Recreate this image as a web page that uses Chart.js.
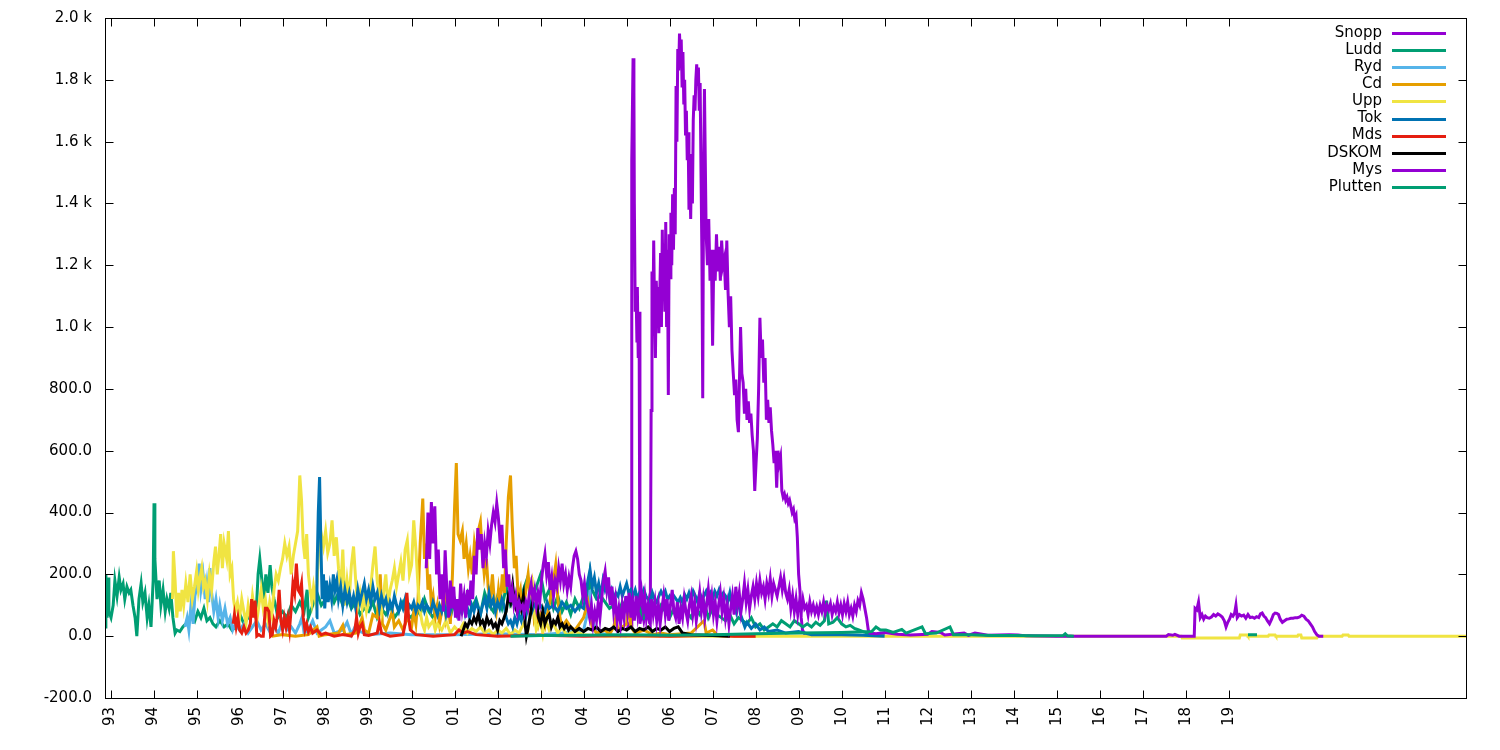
<!DOCTYPE html>
<html><head><meta charset="utf-8">
<script src="https://cdn.jsdelivr.net/npm/chart.js@4.4.1/dist/chart.umd.min.js"></script>
<style>html,body{margin:0;padding:0;background:#fff;}#wrap{width:1500px;height:750px;}</style>
</head><body><div id="wrap"><canvas id="c" width="1500" height="750"></canvas></div>
<script>
const seriesNames = ['Snopp','Ludd','Ryd','Cd','Upp','Tok','Mds','DSKOM','Mys','Plutten'];
const seriesColors = ['#9400d3','#009e73','#56b4e9','#e69f00','#f0e442','#0072b2','#e51e10','#000000','#9400d3','#009e73'];
const yearTicks = [1993,1994,1995,1996,1997,1998,1999,2000,2001,2002,2003,2004,2005,2006,2007,2008,2009,2010,2011,2012,2013,2014,2015,2016,2017,2018,2019];

const snopp = [[2005.0,20],[2005.06,40],[2005.11,30],[2005.12,1540],[2005.15,1870],[2005.17,1760],[2005.18,1400],[2005.2,1050],[2005.22,1120],[2005.24,950],[2005.25,1130],[2005.27,900],[2005.29,1050],[2005.31,40],[2005.36,80],[2005.4,50],[2005.45,90],[2005.5,60],[2005.55,40],
[2005.57,730],[2005.59,1180],[2005.61,1000],[2005.63,1280],[2005.65,1050],[2005.67,900],[2005.69,1150],[2005.71,1050],[2005.73,1130],[2005.75,980],[2005.77,1100],[2005.79,1240],[2005.81,1000],[2005.83,1315],[2005.85,1100],[2005.87,1200],[2005.89,1050],[2005.91,1340],[2005.93,1000],[2005.95,1250],[2005.97,780],[2005.99,1300],
[2006.01,1160],[2006.03,1370],[2006.05,1200],[2006.07,1430],[2006.09,1250],[2006.11,1450],[2006.13,1300],[2006.15,1780],[2006.17,1600],[2006.19,1900],[2006.21,1830],[2006.23,1950],[2006.25,1880],[2006.27,1930],[2006.29,1780],[2006.31,1890],[2006.33,1720],[2006.35,1800],[2006.37,1620],[2006.39,1700],[2006.41,1540],[2006.43,1630],[2006.45,1380],[2006.47,1480],[2006.49,1350],[2006.51,1560],[2006.53,1400],[2006.55,1670],[2006.57,1750],[2006.59,1700],[2006.61,1800],[2006.63,1850],[2006.65,1780],[2006.67,1840],[2006.69,1700],[2006.71,1790],[2006.73,1500],[2006.75,1250],[2006.77,770],[2006.79,1480],[2006.81,1770],
[2006.85,1300],[2006.88,1200],[2006.91,1350],[2006.94,1150],[2006.97,1250],[2007.0,940],[2007.03,1250],[2007.06,1150],[2007.09,1300],[2007.12,1180],[2007.15,1260],[2007.18,1150],[2007.21,1280],[2007.24,1200],[2007.27,1220],[2007.3,1120],[2007.33,1280],[2007.36,1110],[2007.39,1000],[2007.42,1100],[2007.45,925],[2007.48,850],[2007.51,780],[2007.54,830],[2007.57,700],[2007.6,660],[2007.62,800],[2007.65,1000],[2007.68,850],[2007.71,820],[2007.74,720],[2007.77,800],[2007.8,700],[2007.83,760],[2007.86,690],[2007.89,720],[2007.92,650],[2007.95,600],[2007.98,470],
[2008.01,560],[2008.04,640],[2008.07,800],[2008.1,1030],[2008.13,900],[2008.16,960],[2008.19,820],[2008.22,900],[2008.25,700],[2008.28,765],[2008.31,690],[2008.34,740],[2008.37,665],[2008.4,620],[2008.43,560],[2008.46,600],[2008.49,480],[2008.52,600],[2008.55,560],[2008.58,580],[2008.61,470],[2008.64,450],[2008.67,460],[2008.7,440],[2008.73,450],[2008.76,430],[2008.79,440],[2008.82,420],[2008.85,400],[2008.88,410],[2008.91,380],[2008.94,390],[2008.97,320],[2009.0,200],[2009.03,150],[2009.06,60],[2009.09,20],[2009.15,5]];

const ludd = [[1992.87,30],[1992.89,200],[1992.92,60],[1992.94,190],[1992.96,80],[1993.01,60],[1993.06,100],[1993.10,180],[1993.15,130],[1993.20,190],[1993.24,150],[1993.29,170],[1993.33,120],[1993.38,160],[1993.43,140],[1993.47,150],[1993.52,100],[1993.57,60],[1993.61,0],[1993.66,120],[1993.71,170],[1993.75,110],[1993.80,140],[1993.85,60],[1993.89,100],[1993.94,30],[1993.99,180],[1994.01,430],[1994.03,250],[1994.08,120],[1994.13,180],[1994.17,100],[1994.22,150],[1994.27,80],[1994.31,120],[1994.36,90],[1994.40,140],[1994.45,60],[1994.50,10],[1994.54,20],[1994.61,15],[1994.68,30],[1994.75,40],[1994.82,50],[1994.89,70],[1994.96,50],[1995.03,80],[1995.10,60],[1995.17,90],[1995.24,50],[1995.31,60],[1995.38,40],[1995.45,30],[1995.54,50],[1995.64,30],[1995.73,40],[1995.82,20],[1995.92,30],[1996.01,70],[1996.10,40],[1996.20,60],[1996.29,100],[1996.38,60],[1996.43,200],[1996.47,250],[1996.52,180],[1996.57,120],[1996.61,200],[1996.66,140],[1996.71,230],[1996.75,160],[1996.80,120],[1996.85,90],[1996.89,60],
[1997.0,80],[1997.1,60],[1997.2,100],[1997.3,80],[1997.4,110],[1997.5,80],[1997.57,150],[1997.6,60],[1997.7,100],[1997.8,140],[1997.9,100],[1998.0,120],[1998.1,160],[1998.2,110],[1998.3,140],[1998.4,100],[1998.5,130],[1998.6,90],[1998.7,110],[1998.8,70],[1998.9,90],[1999.0,80],[1999.1,110],[1999.2,60],[1999.3,90],[1999.4,70],[1999.5,100],[1999.6,60],[1999.7,80],[1999.8,110],[1999.9,70],[2000.0,60],[2000.1,90],[2000.2,70],[2000.3,120],[2000.4,80],[2000.5,60],[2000.6,100],[2000.7,80],[2000.8,110],[2000.9,60],[2001.0,120],[2001.1,80],[2001.2,100],[2001.3,140],[2001.4,90],[2001.5,120],[2001.6,70],[2001.7,140],[2001.8,100],[2001.9,80],[2002.0,130],[2002.1,90],[2002.2,160],[2002.3,100],[2002.4,120],[2002.5,80],[2002.6,150],[2002.7,190],[2002.8,120],[2002.9,160],[2003.0,200],[2003.1,120],[2003.2,150],[2003.3,90],[2003.4,130],[2003.5,80],[2003.6,110],[2003.7,70],[2003.8,120],[2003.9,90],[2004.0,130],[2004.1,110],[2004.15,200],[2004.2,150],[2004.3,120],[2004.4,130],[2004.5,110],[2004.6,90],[2004.7,100],[2004.8,70],[2004.9,110],[2005.0,80],[2005.1,100],[2005.2,70],[2005.3,90],[2005.4,60],[2005.5,80],[2005.6,110],[2005.7,70],[2005.8,100],[2005.9,80],[2006.0,60],[2006.1,90],[2006.2,70],[2006.3,100],[2006.4,80],[2006.5,60],[2006.6,90],[2006.7,70],[2006.8,110],[2006.9,60],[2007.0,90],[2007.1,70],[2007.2,60],[2007.3,50],[2007.4,70],[2007.5,40],[2007.6,60],[2007.7,50],[2007.8,40],[2007.9,60],[2008.0,30],[2008.1,40],[2008.2,20],[2008.3,30],[2008.4,40],[2008.5,30],[2008.6,50],[2008.7,40],[2008.8,30],[2008.9,50],[2009.0,40],[2009.1,30],[2009.2,40],[2009.3,30],[2009.4,45],[2009.5,35],[2009.6,50],[2009.65,115],[2009.7,40],[2009.8,45],[2009.9,60],[2010.0,40],[2010.1,30],[2010.2,35],[2010.3,25],[2010.4,20],[2010.5,15],[2010.6,10],[2010.8,5],[2011.0,8]];

const ryd = [[1994.73,30],[1994.78,60],[1994.82,20],[1994.87,100],[1994.92,40],[1994.96,130],[1995.01,160],[1995.06,235],[1995.10,150],[1995.15,200],[1995.2,120],[1995.24,170],[1995.28,110],[1995.31,220],[1995.35,140],[1995.4,80],[1995.45,120],[1995.5,60],[1995.54,100],[1995.6,50],[1995.66,90],[1995.72,40],[1995.78,60],[1995.84,20],[1995.9,40],[1996.0,20],[1996.1,40],[1996.2,10],[1996.3,30],[1996.4,50],[1996.5,20],[1996.6,40],[1996.7,15],[1996.8,30],[1996.9,10],[1997.0,50],[1997.1,20],[1997.2,30],[1997.3,10],[1997.4,40],[1997.45,60],[1997.5,10],[1997.6,20],[1997.7,50],[1997.8,10],[1998.0,30],[1998.1,50],[1998.2,10],[1998.4,20],[1998.5,45],[1998.6,5],[1998.7,35],[1998.8,15],[1999.0,5],[1999.5,10],[2000.0,5],[2001.0,5],[2002.0,8],[2003.0,5],[2003.5,10],[2004.0,20],[2004.1,80],[2004.15,150],[2004.2,60],[2004.3,10],[2004.6,5],[2005.0,0]];

const cd = [[1996.75,0],[1997.0,5],[1997.3,0],[1997.6,5],[1997.8,30],[1997.85,0],[1998.0,5],[1998.3,10],[1998.4,35],[1998.45,5],[1998.7,10],[1998.8,40],[1998.85,60],[1998.9,20],[1999.0,10],[1999.1,70],[1999.2,60],[1999.27,200],[1999.32,40],[1999.4,20],[1999.5,60],[1999.55,80],[1999.6,30],[1999.7,50],[1999.8,20],[1999.9,60],[2000.0,30],[2000.05,80],[2000.1,40],[2000.15,120],[2000.2,300],[2000.26,445],[2000.3,250],[2000.34,300],[2000.38,150],[2000.42,200],[2000.46,100],[2000.5,130],[2000.55,60],[2000.6,100],[2000.65,40],[2000.7,80],[2000.75,150],[2000.8,60],[2000.85,100],[2000.9,40],[2000.95,200],[2001.0,420],[2001.04,560],[2001.08,330],[2001.13,310],[2001.18,340],[2001.22,250],[2001.27,300],[2001.32,220],[2001.36,260],[2001.41,200],[2001.46,300],[2001.5,260],[2001.55,340],[2001.6,370],[2001.64,280],[2001.69,200],[2001.74,250],[2001.78,160],[2001.83,120],[2001.88,200],[2001.92,120],[2001.97,80],[2002.02,150],[2002.06,100],[2002.11,200],[2002.16,140],[2002.2,300],[2002.25,450],[2002.3,520],[2002.34,360],[2002.39,220],[2002.43,260],[2002.48,120],[2002.53,150],[2002.57,80],[2002.62,110],[2002.66,150],[2002.71,200],[2002.76,120],[2002.8,160],[2002.85,60],[2002.9,90],[2002.95,40],[2003.0,70],[2003.1,30],[2003.2,100],[2003.3,180],[2003.35,230],[2003.4,120],[2003.45,60],[2003.5,30],[2003.6,50],[2003.7,30],[2003.8,20],[2003.9,40],[2004.0,60],[2004.1,110],[2004.15,60],[2004.2,30],[2004.3,10],[2004.5,20],[2004.6,5],[2004.7,30],[2004.75,60],[2004.8,20],[2005.0,40],[2005.05,110],[2005.1,30],[2005.2,10],[2005.4,20],[2005.6,5],[2005.8,10],[2006.0,5],[2006.5,10],[2006.8,50],[2006.85,10],[2007.0,20],[2007.1,5],[2007.5,0],[2008.0,0]];

const upp = [[1994.44,120],[1994.46,275],[1994.5,180],[1994.54,60],[1994.58,140],[1994.62,80],[1994.66,150],[1994.7,100],[1994.75,170],[1994.8,110],[1994.85,200],[1994.9,120],[1994.95,160],[1995.0,210],[1995.04,150],[1995.08,190],[1995.12,220],[1995.16,160],[1995.2,180],[1995.25,120],[1995.3,200],[1995.35,150],[1995.4,240],[1995.44,290],[1995.48,200],[1995.52,260],[1995.56,330],[1995.6,220],[1995.64,300],[1995.7,250],[1995.74,340],[1995.78,200],[1995.82,220],[1995.86,120],[1995.9,80],[1995.95,110],[1996.0,60],[1996.05,120],[1996.1,80],[1996.15,40],[1996.2,100],[1996.25,60],[1996.3,130],[1996.35,80],[1996.4,50],[1996.45,100],[1996.5,150],[1996.55,90],[1996.6,120],[1996.65,60],[1996.7,110],[1996.75,70],[1996.8,150],[1996.85,200],[1996.9,180],[1996.95,220],[1997.0,250],[1997.05,300],[1997.1,260],[1997.15,290],[1997.2,200],[1997.25,260],[1997.3,300],[1997.35,340],[1997.4,520],[1997.44,440],[1997.48,300],[1997.52,250],[1997.56,330],[1997.6,200],[1997.64,150],[1997.68,110],[1997.72,160],[1997.76,120],[1997.8,170],[1997.85,300],[1997.9,330],[1997.95,290],[1998.0,340],[1998.05,270],[1998.1,300],[1998.15,375],[1998.2,260],[1998.25,320],[1998.3,220],[1998.35,150],[1998.4,280],[1998.45,100],[1998.5,180],[1998.55,120],[1998.6,230],[1998.65,290],[1998.7,180],[1998.75,100],[1998.8,140],[1998.85,90],[1998.9,130],[1998.95,80],[1999.0,110],[1999.05,160],[1999.1,230],[1999.15,290],[1999.2,180],[1999.25,120],[1999.3,80],[1999.35,140],[1999.4,200],[1999.45,100],[1999.5,150],[1999.55,180],[1999.6,220],[1999.65,160],[1999.7,200],[1999.75,240],[1999.8,180],[1999.85,280],[1999.9,310],[1999.95,200],[2000.0,230],[2000.05,375],[2000.1,280],[2000.15,160],[2000.2,80],[2000.25,40],[2000.3,20],[2000.35,60],[2000.4,30],[2000.5,50],[2000.55,20],[2000.6,40],[2000.7,20],[2000.8,50],[2000.9,10],[2001.0,30],[2001.1,15],[2001.2,40],[2001.3,10],[2001.4,25],[2001.5,15],[2001.6,30],[2001.7,10],[2001.8,20],[2001.9,5],[2002.0,20],[2002.1,10],[2002.2,25],[2002.3,5],[2002.4,20],[2002.5,10],[2002.6,40],[2002.7,15],[2002.75,60],[2002.8,190],[2002.85,80],[2002.9,20],[2003.0,50],[2003.05,10],[2003.1,60],[2003.2,20],[2003.3,40],[2003.4,10],[2003.5,30],[2003.6,5],[2003.8,15],[2004.0,5],[2004.5,0],[2017.9,0],[2017.92,-6],[2019.25,-6],[2019.27,4],[2019.43,4],[2019.45,0],[2019.92,0],[2019.94,4],[2020.08,4],[2020.1,0],[2020.6,0],[2020.62,4],[2020.68,4],[2020.7,-6],[2021.05,-6],[2021.07,0],[2021.64,0],[2021.66,4],[2021.78,4],[2021.8,0],[2024.52,0]];

const tok = [[1997.78,60],[1997.8,200],[1997.83,400],[1997.86,515],[1997.89,300],[1997.92,120],[1997.95,200],[1997.98,90],[1998.02,180],[1998.06,110],[1998.1,160],[1998.14,120],[1998.18,200],[1998.22,150],[1998.26,180],[1998.3,120],[1998.35,160],[1998.4,100],[1998.45,150],[1998.5,110],[1998.55,140],[1998.6,100],[1998.65,130],[1998.7,90],[1998.75,150],[1998.8,110],[1998.85,140],[1998.9,170],[1998.95,120],[1999.0,150],[1999.05,110],[1999.1,160],[1999.15,120],[1999.2,140],[1999.25,90],[1999.3,130],[1999.35,100],[1999.4,120],[1999.45,80],[1999.5,110],[1999.55,90],[1999.6,130],[1999.65,100],[1999.7,80],[1999.75,110],[1999.8,90],[1999.85,120],[1999.9,80],[1999.95,100],[2000.0,90],[2000.05,110],[2000.1,80],[2000.15,100],[2000.2,90],[2000.25,110],[2000.3,80],[2000.35,100],[2000.4,90],[2000.45,80],[2000.5,110],[2000.55,90],[2000.6,70],[2000.65,100],[2000.7,80],[2000.75,110],[2000.8,70],[2000.85,100],[2000.9,80],[2000.95,110],[2001.0,90],[2001.05,70],[2001.1,100],[2001.15,80],[2001.2,110],[2001.25,70],[2001.3,90],[2001.35,60],[2001.4,100],[2001.45,80],[2001.5,110],[2001.55,90],[2001.6,70],[2001.65,100],[2001.7,120],[2001.75,90],[2001.8,140],[2001.85,100],[2001.9,120],[2001.95,80],[2002.0,110],[2002.05,90],[2002.1,120],[2002.15,100],[2002.2,60],[2002.25,40],[2002.3,50],[2002.35,30],[2002.4,60],[2002.45,40],[2002.5,70],[2002.55,50],[2002.6,80],[2002.65,60],[2002.7,90],[2002.75,110],[2002.8,80],[2002.85,100],[2002.9,110],[2002.95,90],[2003.0,100],[2003.1,80],[2003.15,110],[2003.2,90],[2003.3,100],[2003.4,80],[2003.5,110],[2003.6,90],[2003.7,100],[2003.8,80],[2003.9,100],[2004.0,90],[2004.05,130],[2004.1,180],[2004.15,215],[2004.2,160],[2004.25,190],[2004.3,140],[2004.35,170],[2004.4,130],[2004.45,180],[2004.5,150],[2004.55,170],[2004.6,130],[2004.65,150],[2004.7,120],[2004.75,140],[2004.8,130],[2004.85,160],[2004.9,130],[2004.95,150],[2005.0,170],[2005.05,140],[2005.1,150],[2005.15,130],[2005.2,150],[2005.25,120],[2005.3,140],[2005.35,130],[2005.4,150],[2005.45,130],[2005.5,120],[2005.55,110],[2005.6,140],[2005.65,120],[2005.7,110],[2005.75,130],[2005.8,145],[2005.85,130],[2005.9,145],[2005.95,120],[2006.0,130],[2006.05,115],[2006.1,130],[2006.15,120],[2006.2,110],[2006.25,125],[2006.3,110],[2006.35,135],[2006.4,120],[2006.45,140],[2006.5,115],[2006.55,145],[2006.6,130],[2006.65,110],[2006.7,140],[2006.75,120],[2006.8,130],[2006.85,145],[2006.9,125],[2006.95,140],[2007.0,120],[2007.05,145],[2007.1,130],[2007.15,150],[2007.2,125],[2007.25,140],[2007.3,130],[2007.35,110],[2007.4,140],[2007.45,100],[2007.5,110],[2007.55,80],[2007.6,120],[2007.65,70],[2007.7,50],[2007.75,30],[2007.8,45],[2007.9,25],[2008.0,40],[2008.1,20],[2008.2,30],[2008.3,15],[2008.5,20],[2008.7,10],[2009.0,15],[2009.3,5],[2010.0,5],[2010.5,3],[2011.0,0]];

const mds = [[1995.85,40],[1995.88,70],[1995.92,30],[1995.96,60],[1996.0,20],[1996.05,10],[1996.1,30],[1996.15,10],[1996.2,20],[1996.25,40],[1996.28,120],[1996.32,60],[1996.36,115],[1996.4,0],[1996.45,5],[1996.5,0],[1996.55,0],[1996.6,90],[1996.64,90],[1996.68,80],[1996.72,0],[1996.76,5],[1996.8,50],[1996.84,30],[1996.88,70],[1996.92,150],[1996.96,50],[1997.0,20],[1997.04,60],[1997.08,30],[1997.12,60],[1997.16,20],[1997.2,90],[1997.24,170],[1997.28,140],[1997.32,235],[1997.36,150],[1997.4,140],[1997.44,170],[1997.48,60],[1997.52,20],[1997.56,40],[1997.6,15],[1997.65,30],[1997.7,10],[1997.8,20],[1997.9,5],[1998.0,10],[1998.2,0],[1998.4,5],[1998.6,0],[1998.68,20],[1998.72,60],[1998.76,10],[1998.8,30],[1998.85,40],[1998.9,5],[1999.0,2],[1999.2,10],[1999.25,45],[1999.3,10],[1999.5,0],[1999.8,5],[1999.85,40],[1999.89,140],[1999.93,60],[1999.97,20],[2000.1,5],[2000.5,0],[2001.0,5],[2001.1,20],[2001.2,10],[2001.3,15],[2001.5,5],[2002.0,0],[2003.0,3],[2004.0,0],[2005.0,2],[2006.0,0],[2007.0,3],[2007.5,0],[2008.0,0]];

const dskom = [[2001.15,0],[2001.2,20],[2001.25,40],[2001.3,30],[2001.35,50],[2001.4,40],[2001.45,60],[2001.5,45],[2001.55,70],[2001.6,40],[2001.65,50],[2001.7,30],[2001.75,60],[2001.8,40],[2001.85,50],[2001.9,30],[2001.95,40],[2002.0,20],[2002.05,50],[2002.1,40],[2002.15,60],[2002.2,80],[2002.25,130],[2002.3,110],[2002.35,165],[2002.4,100],[2002.45,80],[2002.5,120],[2002.55,90],[2002.6,130],[2002.64,40],[2002.67,0],[2002.7,20],[2002.75,60],[2002.8,100],[2002.85,140],[2002.9,120],[2002.95,60],[2003.0,40],[2003.05,80],[2003.1,40],[2003.15,60],[2003.2,70],[2003.25,30],[2003.3,50],[2003.35,40],[2003.4,60],[2003.45,30],[2003.5,40],[2003.55,25],[2003.6,35],[2003.65,20],[2003.7,30],[2003.8,15],[2003.9,25],[2004.0,15],[2004.1,25],[2004.2,20],[2004.3,30],[2004.4,15],[2004.5,25],[2004.6,20],[2004.7,30],[2004.8,15],[2004.9,25],[2005.0,20],[2005.1,30],[2005.2,15],[2005.3,25],[2005.4,20],[2005.5,30],[2005.6,15],[2005.7,25],[2005.8,20],[2005.9,30],[2006.0,15],[2006.1,25],[2006.2,30],[2006.3,10],[2006.5,5],[2007.0,2],[2007.4,0]];

const mys = [[2000.34,220],[2000.38,400],[2000.42,250],[2000.46,434],[2000.5,300],[2000.54,420],[2000.58,200],[2000.62,280],[2000.66,120],[2000.7,200],[2000.74,80],[2000.78,278],[2000.82,150],[2000.86,60],[2000.9,180],[2000.94,90],[2000.98,160],[2001.02,60],[2001.06,120],[2001.1,50],[2001.14,170],[2001.18,90],[2001.22,130],[2001.26,60],[2001.3,150],[2001.34,100],[2001.38,180],[2001.42,120],[2001.46,260],[2001.5,200],[2001.54,350],[2001.58,280],[2001.62,330],[2001.66,220],[2001.7,300],[2001.74,260],[2001.78,340],[2001.82,300],[2001.86,360],[2001.9,400],[2001.94,370],[2001.98,430],[2002.02,380],[2002.06,300],[2002.1,360],[2002.14,220],[2002.18,280],[2002.22,160],[2002.26,200],[2002.3,110],[2002.34,150],[2002.38,100],[2002.42,130],[2002.46,80],[2002.5,110],[2002.54,90],[2002.58,100],[2002.62,75],[2002.66,110],[2002.7,90],[2002.74,140],[2002.78,170],[2002.82,120],[2002.86,150],[2002.9,100],[2002.94,140],[2002.98,110],[2003.02,180],[2003.06,230],[2003.1,265],[2003.14,200],[2003.18,240],[2003.22,150],[2003.26,190],[2003.3,130],[2003.34,180],[2003.38,160],[2003.42,220],[2003.46,180],[2003.5,235],[2003.54,170],[2003.58,200],[2003.62,150],[2003.66,190],[2003.7,160],[2003.74,220],[2003.78,260],[2003.82,275],[2003.86,250],[2003.9,200],[2003.94,180],[2003.98,130],[2004.02,170],[2004.06,120],[2004.1,90],[2004.14,60],[2004.18,100],[2004.22,40],[2004.26,80],[2004.3,50],[2004.34,110],[2004.38,60],[2004.42,120],[2004.46,180],[2004.5,210],[2004.54,150],[2004.58,190],[2004.62,100],[2004.66,160],[2004.7,80],[2004.74,120],[2004.78,50],[2004.82,90],[2004.86,40],[2004.9,100],[2004.94,60],[2004.98,130],[2005.02,80],[2005.06,140],[2005.1,60],[2005.14,110],[2005.18,50],[2005.22,130],[2005.26,70],[2005.3,120],[2005.34,150],[2005.38,90],[2005.42,130],[2005.46,60],[2005.5,100],[2005.54,40],[2005.58,120],[2005.62,70],[2005.66,110],[2005.7,50],[2005.74,100],[2005.78,40],[2005.82,90],[2005.86,130],[2005.9,70],[2005.94,120],[2005.98,50],[2006.02,100],[2006.06,150],[2006.1,80],[2006.14,60],[2006.18,110],[2006.22,40],[2006.26,90],[2006.3,60],[2006.34,120],[2006.38,80],[2006.42,50],[2006.46,100],[2006.5,130],[2006.54,70],[2006.58,110],[2006.62,50],[2006.66,90],[2006.7,140],[2006.74,80],[2006.78,120],[2006.82,60],[2006.86,100],[2006.9,150],[2006.94,90],[2006.98,130],[2007.02,70],[2007.06,110],[2007.1,50],[2007.14,100],[2007.18,140],[2007.22,80],[2007.26,120],[2007.3,60],[2007.34,100],[2007.38,40],[2007.42,90],[2007.46,130],[2007.5,70],[2007.54,160],[2007.58,100],[2007.62,140],[2007.66,80],[2007.7,120],[2007.74,170],[2007.78,110],[2007.82,150],[2007.86,90],[2007.9,130],[2007.94,160],[2007.98,120],[2008.02,170],[2008.06,130],[2008.1,180],[2008.14,140],[2008.18,160],[2008.22,120],[2008.26,170],[2008.3,140],[2008.34,185],[2008.38,130],[2008.42,170],[2008.46,150],[2008.5,130],[2008.54,160],[2008.58,190],[2008.62,150],[2008.66,185],[2008.7,140],[2008.74,120],[2008.78,150],[2008.82,90],[2008.86,130],[2008.9,80],[2008.94,120],[2008.98,70],[2009.02,110],[2009.06,80],[2009.1,120],[2009.14,90],[2009.18,100],[2009.22,70],[2009.26,110],[2009.3,80],[2009.34,100],[2009.38,75],[2009.42,95],[2009.46,70],[2009.5,100],[2009.54,80],[2009.58,110],[2009.62,75],[2009.66,100],[2009.7,85],[2009.74,105],[2009.78,70],[2009.82,95],[2009.86,80],[2009.9,110],[2009.94,75],[2009.98,100],[2010.02,70],[2010.06,105],[2010.1,80],[2010.14,110],[2010.18,70],[2010.22,90],[2010.26,65],[2010.3,100],[2010.34,80],[2010.38,115],[2010.42,100],[2010.46,140],[2010.5,120],[2010.54,90],[2010.58,60],[2010.62,20],[2010.66,10],[2010.8,8],[2011.0,12],[2011.3,6],[2011.6,4],[2012.0,6],[2012.1,15],[2012.3,12],[2012.4,4],[2012.85,10],[2012.95,3],[2013.1,10],[2013.2,8],[2013.4,3],[2013.9,5],[2014.1,4],[2014.3,1],[2015.0,0],[2017.55,0],[2017.6,5],[2017.7,3],[2017.75,6],[2017.85,0],[2018.2,0],[2018.22,90],[2018.26,85],[2018.3,110],[2018.34,60],[2018.38,70],[2018.42,55],[2018.46,65],[2018.5,60],[2018.55,58],[2018.6,62],[2018.65,70],[2018.7,65],[2018.75,72],[2018.8,68],[2018.85,62],[2018.9,50],[2018.94,30],[2018.98,45],[2019.02,55],[2019.06,70],[2019.1,65],[2019.14,75],[2019.17,100],[2019.2,60],[2019.25,70],[2019.3,65],[2019.35,68],[2019.4,58],[2019.45,70],[2019.5,60],[2019.55,62],[2019.6,58],[2019.65,63],[2019.7,60],[2019.74,72],[2019.78,75],[2019.82,65],[2019.86,60],[2019.9,50],[2019.95,40],[2020.0,55],[2020.04,70],[2020.08,75],[2020.12,74],[2020.16,70],[2020.2,55],[2020.25,45],[2020.3,50],[2020.35,55],[2020.4,56],[2020.45,58],[2020.5,58],[2020.55,60],[2020.6,60],[2020.65,62],[2020.7,68],[2020.75,65],[2020.8,55],[2020.85,50],[2020.9,40],[2020.95,30],[2021.0,15],[2021.05,5],[2021.1,0],[2021.2,0]];

const plutten = [[2002.3,0],[2003.0,2],[2004.0,3],[2005.0,5],[2006.0,3],[2007.0,5],[2008.0,8],[2009.0,10],[2010.0,12],[2010.7,15],[2010.8,30],[2010.9,20],[2011.03,20],[2011.2,12],[2011.4,22],[2011.5,10],[2011.87,30],[2011.95,8],[2012.2,10],[2012.52,30],[2012.6,5],[2012.8,5],[2013.0,5],[2013.3,3],[2013.5,2],[2014.0,2],[2014.5,1],[2015.15,2],[2015.2,8],[2015.25,1],[2015.4,0],[2015.45,null],[2019.45,5],[2019.66,5]];

const seriesData = [snopp, ludd, ryd, cd, upp, tok, mds, dskom, mys, plutten];

const N = seriesNames.length;
const datasets = seriesNames.map((name, i) => ({
  label: name,
  data: seriesData[i].map(p => ({x: p[0], y: p[1]})),
  borderColor: seriesColors[i],
  backgroundColor: seriesColors[i],
  borderWidth: 3,
  pointRadius: 0,
  tension: 0,
  fill: false,
  spanGaps: false,
  order: N - 1 - i
}));

const FONT = "'DejaVu Sans', sans-serif";

const framePlugin = {
  id: 'frame',
  afterDraw(chart) {
    const {ctx, chartArea: a, scales} = chart;
    const xs = scales.x, ys = scales.y;
    ctx.save();
    ctx.strokeStyle = '#000';
    ctx.lineWidth = 1;
    const L = Math.round(a.left) + 0.5, R = Math.round(a.right) + 0.5;
    const T = Math.round(a.top) + 0.5, B = Math.round(a.bottom) + 0.5;
    ctx.strokeRect(L, T, R - L, B - T);
    const tl = 8;
    ctx.beginPath();
    xs.ticks.forEach(t => {
      const px = Math.round(xs.getPixelForValue(t.value)) + 0.5;
      ctx.moveTo(px, B); ctx.lineTo(px, B - tl);
      ctx.moveTo(px, T); ctx.lineTo(px, T + tl);
    });
    ys.ticks.forEach(t => {
      const py = Math.round(ys.getPixelForValue(t.value)) + 0.5;
      ctx.moveTo(L, py); ctx.lineTo(L + tl, py);
      ctx.moveTo(R, py); ctx.lineTo(R - tl, py);
    });
    ctx.stroke();
    ctx.font = "15px " + FONT;
    ctx.textAlign = 'right';
    ctx.textBaseline = 'middle';
    seriesNames.forEach((name, i) => {
      const yy = 33 + i * 17.1;
      ctx.fillStyle = '#000';
      ctx.fillText(name, 1382, yy);
      ctx.strokeStyle = seriesColors[i];
      ctx.lineWidth = 3;
      ctx.beginPath();
      ctx.moveTo(1392, Math.round(yy) + 0.5);
      ctx.lineTo(1446, Math.round(yy) + 0.5);
      ctx.stroke();
    });
    ctx.restore();
  }
};

new Chart(document.getElementById('c'), {
  type: 'line',
  data: { datasets },
  options: {
    responsive: false,
    animation: false,
    events: [],
    layout: { padding: { top: 18, right: 34, left: 0, bottom: 0 } },
    plugins: { legend: { display: false }, tooltip: { enabled: false } },
    scales: {
      x: {
        type: 'linear', min: 1992.87, max: 2024.52,
        grid: { display: false, drawTicks: false },
        border: { display: false },
        afterBuildTicks: s => { s.ticks = yearTicks.map(v => ({ value: v })); },
        afterFit: s => { s.height = 52; s.paddingLeft = 0; s.paddingRight = 0; },
        ticks: {
          autoSkip: false, minRotation: 90, maxRotation: 90, padding: 9,
          color: '#000', font: { family: FONT, size: 15 },
          callback: v => String(v % 100).padStart(2, '0')
        }
      },
      y: {
        type: 'linear', min: -200, max: 2000,
        grid: { display: false, drawTicks: false },
        border: { display: false },
        afterFit: s => { s.width = 105; s.paddingTop = 0; s.paddingBottom = 0; },
        ticks: {
          stepSize: 200, padding: 13, color: '#000', font: { family: FONT, size: 15 },
          callback: v => Math.abs(v) >= 1000 ? (v / 1000).toFixed(1) + ' k' : v.toFixed(1)
        }
      }
    }
  },
  plugins: [framePlugin]
});
</script>
</body></html>
